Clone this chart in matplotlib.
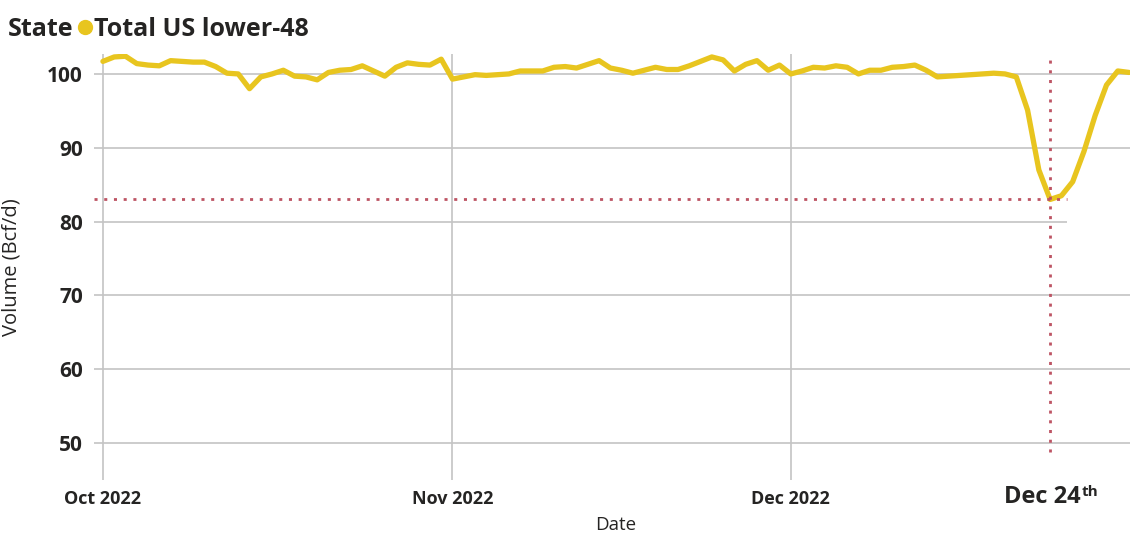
import matplotlib
matplotlib.use("Agg")
import matplotlib.pyplot as plt
import matplotlib.dates as mdates
import numpy as np
import pandas as pd

# ---------------- data ----------------
oct_values = [101.7, 102.3, 102.4, 101.4, 101.2, 101.1, 101.8, 101.7, 101.6, 101.6,
              101.0, 100.1, 100.0, 98.0, 99.6, 100.0, 100.5, 99.7, 99.6, 99.2,
              100.2, 100.5, 100.6, 101.1, 100.4, 99.7, 100.9, 101.5, 101.3, 101.2,
              102.0]
nov_values = [99.3, 99.6, 99.9, 99.8, 99.9, 100.0, 100.4, 100.4, 100.4, 100.9,
              101.0, 100.8, 101.3, 101.8, 100.8, 100.5, 100.1, 100.5, 100.9, 100.6,
              100.6, 101.1, 101.7, 102.3, 101.9, 100.4, 101.3, 101.8, 100.5, 101.2]
dec_values = [100.0, 100.4, 100.9, 100.8, 101.1, 100.9, 100.0, 100.5, 100.5, 100.9,
              101.0, 101.2, 100.5, 99.6, 99.7, 99.8, 99.9, 100.0, 100.1, 100.0,
              99.6, 95.1, 87.0, 83.0, 83.5, 85.4, 89.5, 94.4, 98.5, 100.4,
              100.2]
dates = pd.date_range("2022-10-01", "2022-12-31", freq="D")
volume = oct_values + nov_values + dec_values

series_name = "Total US lower-48"
legend_title = "State"
y_ticks = [50, 60, 70, 80, 90, 100]
x_ticks = pd.to_datetime(["2022-10-01", "2022-11-01", "2022-12-01"])
x_tick_labels = ["Oct 2022", "Nov 2022", "Dec 2022"]
event_date = pd.Timestamp("2022-12-24")
event_value = 83.0
event_label = "Dec 24"
x_label = "Date"
y_label = "Volume (Bcf/d)"

# ---------------- style ----------------
LINE_COLOR = "#E8C51F"
GRID_COLOR = "#C4C4C4"
TEXT_COLOR = "#252423"
REF_COLOR = "#BD5464"
FONT = ["Open Sans", "DejaVu Sans"]

plt.rcParams["font.family"] = FONT

fig = plt.figure(figsize=(11.30, 5.33), dpi=100)
W, H = 1130, 533
ax = fig.add_axes([94 / W, 1 - 480 / H, (1130 - 94) / W, (480 - 54) / H])

x_left = pd.Timestamp("2022-10-01") - pd.Timedelta(hours=19)
x_right = pd.Timestamp("2022-12-31") + pd.Timedelta(hours=2)
ax.set_xlim(x_left, x_right)
ax.set_ylim(45.0, 102.7)

for s in ax.spines.values():
    s.set_visible(False)

# horizontal gridlines
for yv in y_ticks:
    xmax = x_right
    if yv == 80:
        xmax = event_date + pd.Timedelta(hours=36)
    ax.hlines(yv, x_left, xmax, color=GRID_COLOR, lw=1.2, zorder=1)
# vertical gridlines at month starts
for xv in x_ticks:
    ax.axvline(xv, color=GRID_COLOR, lw=1.2, zorder=1)

ax.plot(dates, volume, color=LINE_COLOR, lw=3.8, solid_joinstyle="round",
        solid_capstyle="round", zorder=3, clip_on=True)

# reference dotted lines
ax.hlines(event_value, x_left, event_date + pd.Timedelta(hours=36),
          color=REF_COLOR, lw=2.0, linestyles=(0, (1.1, 2.4)), zorder=4)
ax.vlines(event_date, 48.8, 102.6, color=REF_COLOR, lw=2.0,
          linestyles=(0, (1.1, 2.4)), zorder=4)

ax.set_yticks(y_ticks)
ax.set_yticklabels([str(v) for v in y_ticks], fontsize=15, fontweight="bold",
                   color=TEXT_COLOR)
ax.set_xticks(x_ticks)
ax.set_xticklabels(x_tick_labels, fontsize=13, fontweight="bold",
                   color=TEXT_COLOR)
ax.tick_params(axis="both", length=0)
ax.tick_params(axis="y", pad=8)
ax.tick_params(axis="x", pad=7)

ax.set_xlabel(x_label, fontsize=13.5, color=TEXT_COLOR)
ax.xaxis.set_label_coords((616 - 94) / (1130 - 94), -(516 - 480) / (480 - 54))
ax.xaxis.label.set_va("top")
ax.set_ylabel(y_label, fontsize=14.5, color=TEXT_COLOR)
ax.yaxis.set_label_coords((22 - 94) / (1130 - 94), 0.5)

# Dec 24th annotation
t1 = ax.annotate(event_label, xy=(mdates.date2num(event_date), 0),
                 xycoords=("data", "axes fraction"),
                 xytext=(-46, -23), textcoords="offset pixels",
                 ha="left", va="baseline", fontsize=17, fontweight="bold",
                 color=TEXT_COLOR, annotation_clip=False)
ax.annotate("th", xy=(1, 1), xycoords=t1, xytext=(1, 0),
            textcoords="offset pixels", ha="left", va="top",
            fontsize=11, fontweight="bold", color=TEXT_COLOR)

# legend
fig.text(8 / W, 1 - 29 / H, legend_title, fontsize=18, fontweight="bold",
         color=TEXT_COLOR, ha="left", va="center")
fig.add_artist(plt.Line2D([85 / W], [1 - 27 / H], marker="o", markersize=10,
                          color=LINE_COLOR, transform=fig.transFigure))
fig.text(94 / W, 1 - 29 / H, series_name, fontsize=18, fontweight="bold",
         color=TEXT_COLOR, ha="left", va="center")

fig.savefig("out.png", dpi=100)
